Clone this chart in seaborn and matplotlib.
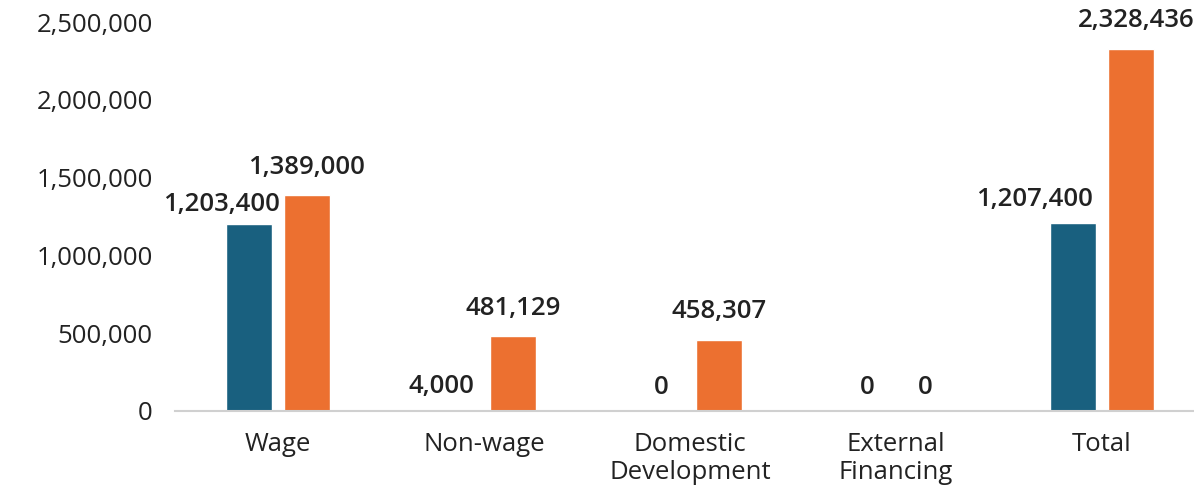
import matplotlib
matplotlib.use("Agg")
import matplotlib.pyplot as plt
import seaborn as sns
import pandas as pd

categories = ["Wage", "Non-wage", "Domestic\nDevelopment", "External\nFinancing", "Total"]
series_names = ["Series A", "Series B"]
series_a = [1203400, 4000, 0, 0, 1207400]
series_b = [1389000, 481129, 458307, 0, 2328436]
yticks = [0, 500000, 1000000, 1500000, 2000000, 2500000]

colors = ["#19607F", "#EC7030"]

df = pd.DataFrame({
    "category": categories * 2,
    "series": [series_names[0]] * len(categories) + [series_names[1]] * len(categories),
    "value": series_a + series_b,
})

sns.set_theme(style="white")
plt.rcParams["font.family"] = ["Open Sans", "DejaVu Sans"]

W, H = 1194, 492
fig = plt.figure(figsize=(W / 100, H / 100), dpi=100)
ax = fig.add_axes([175 / W, (H - 411) / H, 1030 / W, (411 - 22) / H])

sns.barplot(data=df, x="category", y="value", hue="series", palette=colors,
            width=0.56, gap=0.2, ax=ax, legend=False, saturation=1,
            order=categories, hue_order=series_names)

FS = 18.5
ax.set_xlim(-0.5, 4.5)
ax.set_ylim(0, 2500000)
ax.set_yticks(yticks)
ax.set_yticklabels([f"{v:,}" for v in yticks], fontsize=FS, color="#222222")
ax.tick_params(axis="y", length=0, pad=16)
ax.tick_params(axis="x", length=0, pad=15, labelsize=FS, labelcolor="#222222")
for lbl in ax.get_xticklabels():
    lbl.set_linespacing(1.15)
ax.set_xlabel("")
ax.set_ylabel("")
for s in ["top", "right", "left"]:
    ax.spines[s].set_visible(False)
ax.spines["bottom"].set_color("#D0D0D0")
ax.spines["bottom"].set_linewidth(1.5)

# label horizontal offsets (points) per bar, series A then B
dx_a = [-20, -10, 0, 0, -28]
dx_b = [0, 0, 0, 0, 4]
dy_a = [5, 8, 8, 8, 8]
dy_b = [11, 11, 11, 8, 11]

containers = ax.containers
for cont, vals, dxs, dys in zip(containers, [series_a, series_b], [dx_a, dx_b], [dy_a, dy_b]):
    for bar, v, dx, dy in zip(cont.patches, vals, dxs, dys):
        x = bar.get_x() + bar.get_width() / 2
        ax.annotate(f"{v:,}", (x, bar.get_height()), xytext=(dx, dy),
                    textcoords="offset points", ha="center", va="bottom",
                    fontsize=FS, fontweight="semibold", color="#222222",
                    annotation_clip=False)

fig.savefig("out.png", dpi=100)
